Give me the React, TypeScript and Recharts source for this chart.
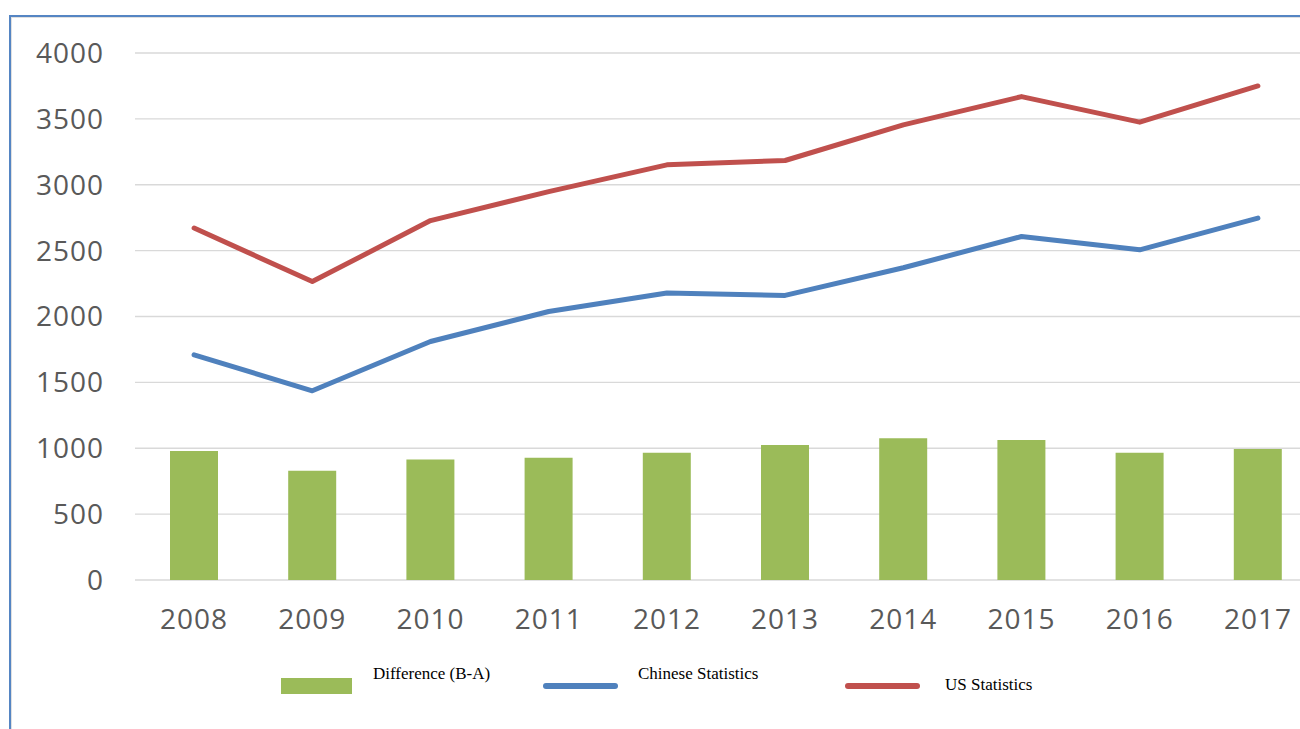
import React from 'react';
import { ComposedChart, Bar, Line, XAxis, YAxis, CartesianGrid } from 'recharts';

const years = ['2008', '2009', '2010', '2011', '2012', '2013', '2014', '2015', '2016', '2017'];
const difference = [980, 830, 915, 928, 965, 1025, 1075, 1062, 965, 995];
const chinese = [1709, 1436, 1810, 2038, 2178, 2160, 2370, 2607, 2506, 2747];
const us = [2671, 2265, 2728, 2948, 3151, 3184, 3454, 3669, 3475, 3750];
const yTicks = [0, 500, 1000, 1500, 2000, 2500, 3000, 3500, 4000];
const seriesNames = ['Difference (B-A)', 'Chinese Statistics', 'US Statistics'];

const data = years.map((y, i) => ({
  year: y,
  diff: difference[i],
  cn: chinese[i],
  us: us[i],
}));

const GREEN = '#9bbb59';
const BLUE = '#4f81bd';
const RED = '#c0504d';

const tickStyle = { fill: '#595959', fontSize: 28, fontFamily: '"Open Sans", sans-serif', letterSpacing: 1 };
const legendFont = { fontFamily: '"Liberation Serif", "Times New Roman", serif', fontSize: 17, color: '#000', position: 'absolute' as const, whiteSpace: 'nowrap' as const, lineHeight: '18px' };

export default function App() {
  return (
    <div style={{ position: 'absolute', left: 0, top: 0, width: 1300, height: 729, overflow: 'hidden', background: '#fff' }}>
      <div style={{ position: 'absolute', left: 9, top: 15, width: 1400, height: 800, borderTop: '2px solid #5585c3', borderLeft: '2px solid #5585c3' }} />
      <div style={{ position: 'absolute', left: 11, top: 17, width: 1400, height: 800, borderTop: '1px solid #e0e0e0', borderLeft: '1px solid #e0e0e0' }} />
      <div style={{ position: 'absolute', left: 0, top: 0 }}>
        <ComposedChart width={1317} height={729} data={data} margin={{ top: 53, right: 0, left: 0, bottom: 109 }} barCategoryGap={0}>
          <CartesianGrid vertical={false} stroke="#d9d9d9" strokeWidth={1.3} />
          <XAxis dataKey="year" axisLine={false} tickLine={false} tickSize={0} tickMargin={29} height={40} tick={tickStyle} interval={0} />
          <YAxis width={135} domain={[0, 4000]} ticks={yTicks} axisLine={false} tickLine={false} tickSize={0} tickMargin={31} tick={tickStyle} interval={0} />
          <Bar dataKey="diff" fill={GREEN} barSize={48} isAnimationActive={false} />
          <Line dataKey="cn" type="linear" stroke={BLUE} strokeWidth={5} dot={false} strokeLinecap="round" strokeLinejoin="round" isAnimationActive={false} />
          <Line dataKey="us" type="linear" stroke={RED} strokeWidth={5} dot={false} strokeLinecap="round" strokeLinejoin="round" isAnimationActive={false} />
        </ComposedChart>
      </div>
      <div style={{ position: 'absolute', left: 281, top: 678, width: 71, height: 16, background: GREEN }} />
      <div style={{ ...legendFont, left: 373, top: 665 }}>{seriesNames[0]}</div>
      <div style={{ position: 'absolute', left: 543, top: 683, width: 75, height: 6, borderRadius: 3, background: BLUE }} />
      <div style={{ ...legendFont, left: 638, top: 665 }}>{seriesNames[1]}</div>
      <div style={{ position: 'absolute', left: 845, top: 683, width: 75, height: 6, borderRadius: 3, background: RED }} />
      <div style={{ ...legendFont, left: 945, top: 676 }}>{seriesNames[2]}</div>
    </div>
  );
}
